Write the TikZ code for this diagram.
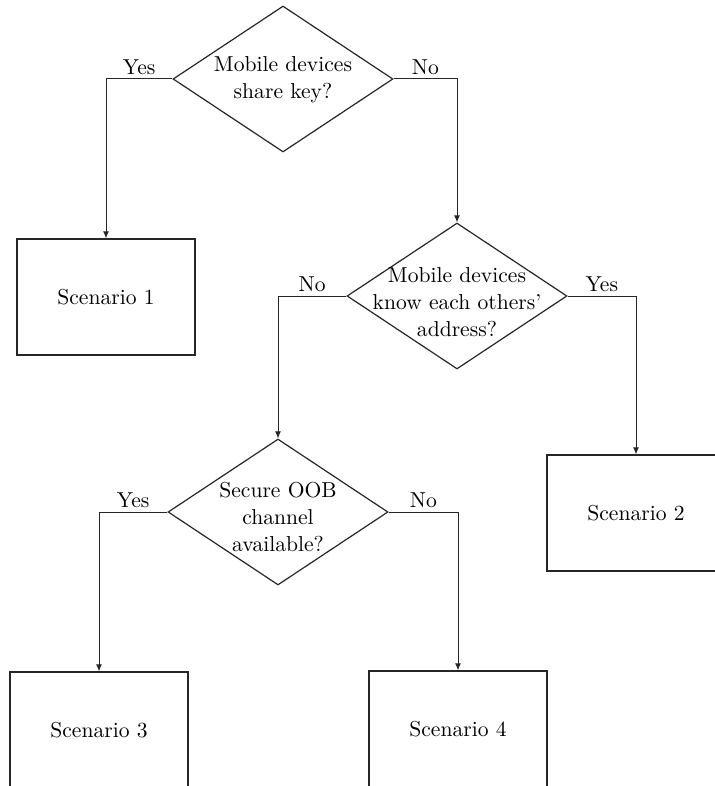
\documentclass[tikz,border=0pt]{standalone}
\usetikzlibrary{shapes.geometric,arrows.meta}
\begin{document}
\begin{tikzpicture}[x=0.5pt,y=-0.5pt,
  every node/.style={font=\fontsize{10.8}{13.5}\selectfont},
  decision/.style={draw=black!85,line width=0.6pt,shape=diamond,inner sep=0pt,minimum width=110pt,minimum height=73pt},
  dtext/.style={align=center,inner sep=0pt},
  scen/.style={draw=black!85,line width=0.6pt,rectangle,minimum width=89pt,minimum height=58pt,inner sep=0pt},
  conn/.style={draw=black!85,line width=0.5pt,-{Latex[length=3.5pt,width=3pt]}},
  lbl/.style={pos=0.25,above,inner sep=2pt}]
\useasboundingbox (0,0) rectangle (714,786);
% decisions
\node[decision] (d1) at (283,79) {};
\node[dtext] (t1) at (283,80) {Mobile devices\\share key?};
\node[decision] (d2) at (457,296) {};
\node[dtext] (t2) at (457,302) {Mobile devices\\know each others'\\address?};
\node[decision] (d3) at (278,512) {};
\node[dtext] (t3) at (278,517) {Secure OOB\\channel\\available?};
% scenarios
\node[scen] (s1) at (106,297) {Scenario 1};
\node[scen] (s2) at (636,513) {Scenario 2};
\node[scen] (s3) at (99,730) {Scenario 3};
\node[scen] (s4) at (458,729) {Scenario 4};
% connectors
\draw[conn] (d1.west) -| node[lbl] {Yes} (s1.north);
\draw[conn] (d1.east) -| node[lbl] {No} (d2.north);
\draw[conn] (d2.west) -| node[lbl] {No} (d3.north);
\draw[conn] (d2.east) -| node[lbl] {Yes} (s2.north);
\draw[conn] (d3.west) -| node[lbl] {Yes} (s3.north);
\draw[conn] (d3.east) -| node[lbl] {No} (s4.north);
\end{tikzpicture}
\end{document}
